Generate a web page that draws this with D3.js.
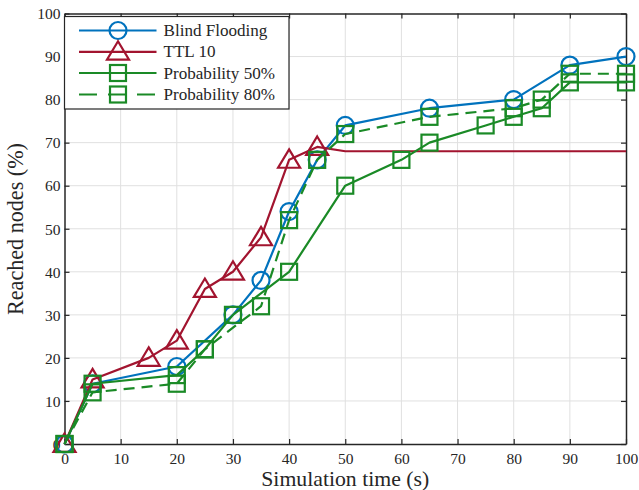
<!DOCTYPE html>
<html><head><meta charset="utf-8">
<script src="https://cdn.jsdelivr.net/npm/d3@7/dist/d3.min.js"></script>
<style>body{margin:0;background:#fff}svg{display:block}</style>
</head><body>
<script>
const xTicks = [0,10,20,30,40,50,60,70,80,90,100];
const yTicks = [0,10,20,30,40,50,60,70,80,90,100];
const blindX = [0,5,20,30,35,40,45,50,65,80,90,100];
const blindY = [0,14,18,30,38,54,66,74,78,80,88,90];
const ttlX = [0,5,15,20,25,30,35,40,45,50,60,70,80,90,100];
const ttlY = [0,15,20,24,36,40,48,66,69,68,68,68,68,68,68];
const ttlMarkerUntil = 45;
const p50X = [0,5,20,25,30,40,50,60,65,75,80,85,90,100];
const p50Y = [0,14,16,22,30,40,60,66,70,74,76,78,84,84];
const p80X = [0,5,20,25,35,40,45,50,65,80,85,90,100];
const p80Y = [0,12,14,22,32,52,66,72,76,78,80,86,86];
const seriesNames = ["Blind Flooding","TTL 10","Probability 50%","Probability 80%"];

const FONT="Liberation Serif, serif";
const W=639,H=490;
const svg=d3.select("body").append("svg").attr("width",W).attr("height",H);
const x=d3.scaleLinear().domain([0,100]).range([64.5,626]);
const y=d3.scaleLinear().domain([0,100]).range([444,13.5]);

function fitText(t,target){
  const base=+t.attr("font-size");
  const w=t.node().getComputedTextLength();
  if(w>0) t.attr("font-size",base*target/w);
}

// grid
const g=svg.append("g");
g.selectAll(".gx").data(xTicks.slice(1,-1)).enter().append("line")
 .attr("x1",d=>x(d)).attr("x2",d=>x(d)).attr("y1",y(0)).attr("y2",y(100))
 .attr("stroke","#e0e0e0").attr("stroke-width",1);
g.selectAll(".gy").data(yTicks.slice(1,-1)).enter().append("line")
 .attr("y1",d=>y(d)).attr("y2",d=>y(d)).attr("x1",x(0)).attr("x2",x(100))
 .attr("stroke","#e0e0e0").attr("stroke-width",1);

// axes
const fs=15.5;
const axB=svg.append("g").attr("transform",`translate(0,${y(0)})`)
 .call(d3.axisBottom(x).tickValues(xTicks).tickSizeInner(-5).tickSizeOuter(0).tickPadding(9));
const axT=svg.append("g").attr("transform",`translate(0,${y(100)})`)
 .call(d3.axisTop(x).tickValues(xTicks).tickSizeInner(-5).tickSizeOuter(0).tickFormat(""));
const axL=svg.append("g").attr("transform",`translate(${x(0)},0)`)
 .call(d3.axisLeft(y).tickValues(yTicks).tickSizeInner(-5).tickSizeOuter(0).tickPadding(4));
const axR=svg.append("g").attr("transform",`translate(${x(100)},0)`)
 .call(d3.axisRight(y).tickValues(yTicks).tickSizeInner(-5).tickSizeOuter(0).tickFormat(""));
[axB,axT,axL,axR].forEach(a=>{
  a.attr("font-family",FONT).attr("font-size",fs);
  a.selectAll("path").attr("stroke","#262626").attr("stroke-width",1.5);
  a.selectAll("line").attr("stroke","#262626").attr("stroke-width",1.2);
  a.selectAll("text").attr("fill","#262626").style("font-family",FONT).attr("font-size",fs);
});
axL.selectAll("text").attr("dy","0.34em");

const xl=svg.append("text").attr("x",(x(0)+x(100))/2).attr("y",485.5).attr("text-anchor","middle")
 .style("font-family",FONT).attr("fill","#262626").attr("font-size",17).text("Simulation time (s)");
fitText(xl,168);
const yl=svg.append("text").attr("transform",`translate(23,${229}) rotate(-90)`)
 .attr("text-anchor","middle").style("font-family",FONT).attr("fill","#262626").attr("font-size",17).text("Reached nodes (%)");
fitText(yl,172);

const blue="#0072BD", red="#A2142F", green="#1A8A26";
const line=d3.line().x(d=>x(d[0])).y(d=>y(d[1]));
const zip=(a,b)=>a.map((v,i)=>[v,b[i]]);

function marker(sel,type,cx,cy,color){
  if(type==="circle") sel.append("circle").attr("cx",cx).attr("cy",cy).attr("r",8.5)
      .attr("fill","none").attr("stroke",color).attr("stroke-width",2.2);
  else if(type==="square") sel.append("rect").attr("x",cx-8).attr("y",cy-8).attr("width",16).attr("height",16)
      .attr("fill","none").attr("stroke",color).attr("stroke-width",2.2);
  else { const s=10.5; sel.append("path").attr("d",`M${cx},${cy-s} L${cx+s*1.05},${cy+s*0.75} L${cx-s*1.05},${cy+s*0.75} Z`)
      .attr("fill","none").attr("stroke",color).attr("stroke-width",2.2).attr("stroke-linejoin","miter"); }
}

const series=[
 {pts:zip(blindX,blindY),color:blue,m:"circle",dash:null,mf:()=>true},
 {pts:zip(ttlX,ttlY),color:red,m:"tri",dash:null,mf:d=>d[0]<=ttlMarkerUntil},
 {pts:zip(p50X,p50Y),color:green,m:"square",dash:null,mf:()=>true},
 {pts:zip(p80X,p80Y),color:green,m:"square",dash:"11,7",mf:()=>true}
];
series.forEach(s=>{
  const gg=svg.append("g");
  gg.append("path").attr("d",line(s.pts)).attr("fill","none").attr("stroke",s.color)
    .attr("stroke-width",2.2).attr("stroke-dasharray",s.dash).attr("stroke-linejoin","round");
  s.pts.filter(s.mf).forEach(d=>marker(gg,s.m,x(d[0]),y(d[1]),s.color));
});

// legend
const lg=svg.append("g");
lg.append("rect").attr("x",64.5).attr("y",16.5).attr("width",224.5).attr("height",92.5)
 .attr("fill","#fff").attr("stroke","#262626").attr("stroke-width",1.2);
const rowsY=[30.5,51.8,73,94.5];
let lfs=15.5;
const lt=[];
series.forEach((s,i)=>{
  const yy=rowsY[i];
  lg.append("line").attr("x1",79).attr("x2",156.5).attr("y1",yy).attr("y2",yy)
   .attr("stroke",s.color).attr("stroke-width",2.2).attr("stroke-dasharray",s.dash?"18,11":null);
  marker(lg,s.m,118,yy,s.color);
  lt.push(lg.append("text").attr("x",163.5).attr("y",yy).attr("dy","0.33em").style("font-family",FONT)
   .attr("fill","#262626").attr("font-size",lfs).text(seriesNames[i]));
});
const w0=lt[0].node().getComputedTextLength();
if(w0>0){ const nf=lfs*104/w0; lt.forEach(t=>t.attr("font-size",nf)); }
</script>
</body></html>
